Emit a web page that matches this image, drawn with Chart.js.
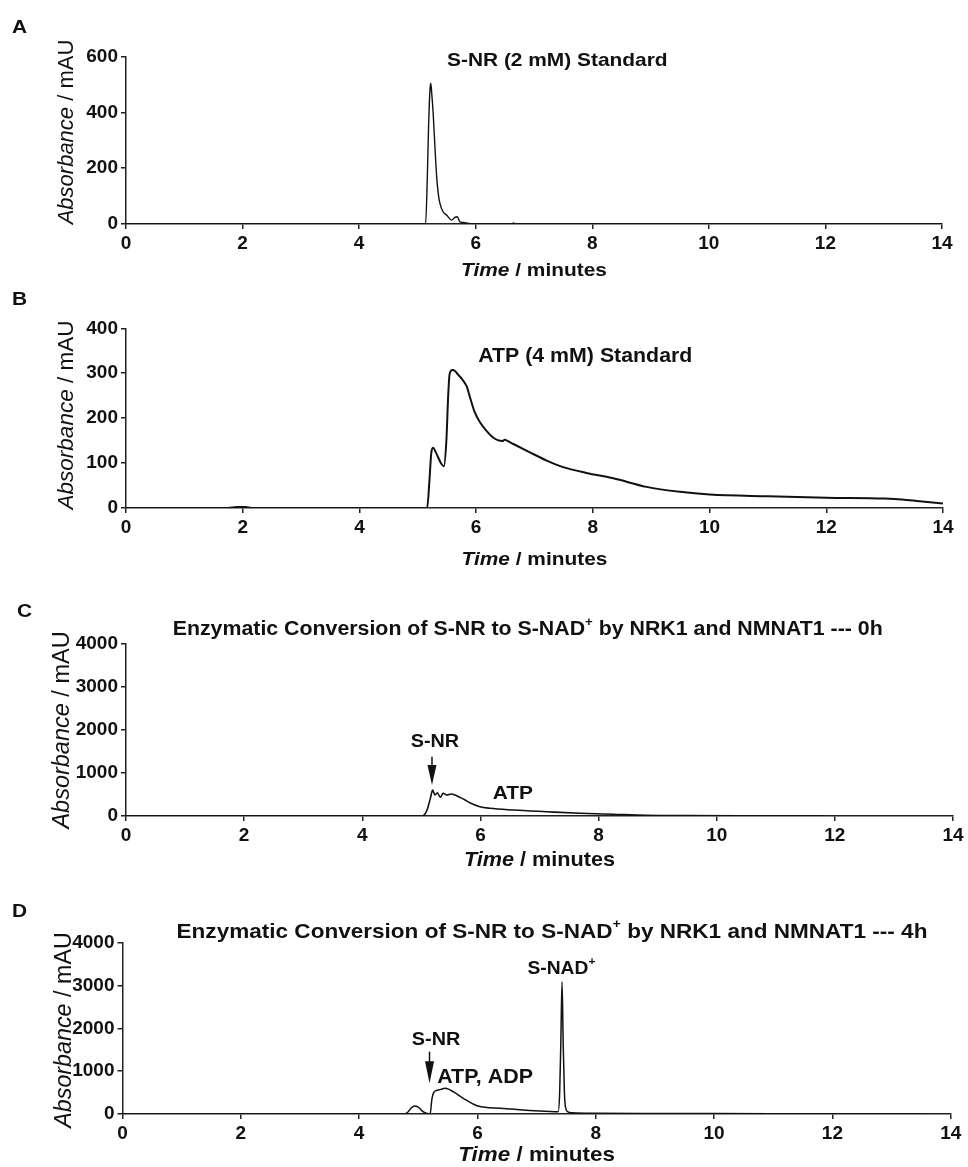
<!DOCTYPE html>
<html>
<head>
<meta charset="utf-8">
<script src="https://cdn.jsdelivr.net/npm/chart.js@4"></script>
<style>
  body { margin: 0; background: #fff; }
  canvas { position: absolute; left: 0; }
</style>
</head>
<body>
<canvas id="chartA" width="968" height="290" style="top:0px"></canvas>
<canvas id="chartB" width="968" height="290" style="top:290px"></canvas>
<canvas id="chartC" width="968" height="300" style="top:580px"></canvas>
<canvas id="chartD" width="968" height="287" style="top:880px"></canvas>
<script>
// x axis (minutes) shared by all four chromatograms
var xTicks = [0, 2, 4, 6, 8, 10, 12, 14];

// A: S-NR (2 mM) standard
var timeA = [0, 5.10, 5.14, 5.17, 5.19, 5.215, 5.228, 5.245, 5.27, 5.30, 5.33, 5.357, 5.386, 5.44, 5.50, 5.587, 5.643, 5.683, 5.729, 5.815, 5.90, 6.0, 6.62, 6.65, 6.68, 14];
var absA  = [0, 0, 0, 170, 340, 480, 505, 470, 397, 277, 170, 110, 74, 44, 32, 14, 24, 26, 8, 5, 1, 0, 0, 4, 0, 0];
var yTicksA = [0, 200, 400, 600];

// B: ATP (4 mM) standard
var timeB = [0, 1.75, 1.9, 2.05, 2.15, 5.16, 5.20, 5.23, 5.26, 5.32, 5.40, 5.447, 5.49, 5.52, 5.545, 5.59, 5.63, 5.69, 5.77, 5.84, 5.90, 5.97, 6.06, 6.17, 6.29, 6.37, 6.45, 6.49, 6.57, 6.63, 6.92, 7.20, 7.49, 7.89, 8.35, 8.92, 9.49, 10.0, 11.0, 12.0, 13.0, 13.3, 13.6, 14];
var absB  = [0, 0, 2, 2, 0, 0, 62, 121, 134, 121, 99, 93, 150, 247, 298, 307, 306, 297, 285, 270, 244, 215, 192, 173, 157, 151, 149, 152, 147, 143, 124, 106, 91, 78, 66, 47, 36, 30, 26, 23, 21, 19, 15, 10];
var yTicksB = [0, 100, 200, 300, 400];

// C: enzymatic conversion, 0 h
var timeC = [0, 5.02, 5.06, 5.10, 5.13, 5.16, 5.19, 5.23, 5.27, 5.32, 5.37, 5.43, 5.51, 5.58, 5.65, 5.74, 5.82, 5.99, 6.16, 6.56, 7.12, 7.69, 8.25, 8.81, 9.5, 10.5, 11.8];
var absC  = [0, 0, 46, 150, 294, 450, 602, 486, 540, 433, 526, 486, 510, 480, 433, 370, 308, 215, 178, 139, 100, 63, 39, 16, 8, 3, 0];
var yTicksC = [0, 1000, 2000, 3000, 4000];

// D: enzymatic conversion, 4 h
var timeD = [0, 4.75, 4.82, 4.88, 4.94, 5.00, 5.08, 5.15, 5.20, 5.23, 5.26, 5.30, 5.38, 5.45, 5.52, 5.59, 5.76, 5.99, 6.21, 6.49, 6.77, 7.06, 7.31, 7.365, 7.39, 7.41, 7.43, 7.45, 7.47, 7.49, 7.53, 7.60, 8.0, 9.0, 10.0, 12.0, 13.6];
var absD  = [0, 0, 40, 140, 187, 160, 54, 10, 0, 350, 500, 545, 575, 600, 575, 521, 367, 194, 147, 124, 93, 70, 54, 55, 500, 1700, 3090, 1600, 500, 150, 50, 28, 15, 12, 10, 5, 2];
var yTicksD = [0, 1000, 2000, 3000, 4000];

var FONT = "'Liberation Sans', Arial, Helvetica, sans-serif";
var INK = '#111';

function segFont(s, size) {
    var sz = s.sup ? Math.round(size * 0.62) : size;
    return (s.italic ? 'italic ' : '') + (s.normal ? '' : 'bold ') + sz + 'px ' + FONT;
}

// draws a run of text pieces (italic / superscript parts) as one line
function drawRich(ctx, segs, x, y, size, opt) {
    opt = opt || {};
    ctx.save();
    ctx.translate(x, y);
    if (opt.rotate) ctx.rotate(opt.rotate);
    ctx.scale(opt.sx || 1, 1);
    var widths = [], total = 0;
    segs.forEach(function (s) {
        ctx.font = segFont(s, size);
        var w = ctx.measureText(s.t).width;
        widths.push(w);
        total += w;
    });
    var cx = opt.align === 'left' ? 0 : -total / 2;
    ctx.fillStyle = INK;
    ctx.textAlign = 'left';
    ctx.textBaseline = opt.baseline || 'middle';
    segs.forEach(function (s, i) {
        ctx.font = segFont(s, size);
        ctx.fillText(s.t, cx, s.sup ? -size * 0.38 : 0);
        cx += widths[i];
    });
    ctx.restore();
}

function drawArrow(ctx, x, yTop, yTip, head, hw) {
    ctx.save();
    ctx.strokeStyle = INK;
    ctx.fillStyle = INK;
    ctx.lineWidth = 1.5;
    ctx.beginPath();
    ctx.moveTo(x, yTop);
    ctx.lineTo(x, yTip - head + 2);
    ctx.stroke();
    ctx.beginPath();
    ctx.moveTo(x - hw / 2, yTip - head);
    ctx.lineTo(x + hw / 2, yTip - head);
    ctx.lineTo(x, yTip);
    ctx.closePath();
    ctx.fill();
    ctx.restore();
}

var yTitleSegs = [{t: 'Absorbance', italic: true, normal: true}, {t: ' / mAU', normal: true}];
var xTitleSegs = [{t: 'Time', italic: true}, {t: ' / minutes'}];

// text + arrows drawn on top of each panel
var panelText = {
    id: 'panelText',
    afterDraw: function (chart, args, o) {
        var ctx = chart.ctx, xs = chart.scales.x, ys = chart.scales.y, ca = chart.chartArea;
        drawRich(ctx, [{t: o.letter.t}], o.letter.x, o.letter.y, 19, {align: 'left', sx: 1.1});
        drawRich(ctx, yTitleSegs, o.yTitle.x, o.yTitle.y, o.yTitle.size,
            {rotate: -Math.PI / 2, baseline: 'alphabetic'});
        drawRich(ctx, xTitleSegs, (ca.left + ca.right) / 2, ca.bottom + o.xTitle.dy, o.xTitle.size, {sx: 1.1});
        (o.labels || []).forEach(function (l) {
            drawRich(ctx, l.segs, xs.getPixelForValue(l.x), ys.getPixelForValue(l.y), l.size,
                {sx: 1.1, align: l.align});
        });
        (o.arrows || []).forEach(function (a) {
            drawArrow(ctx, xs.getPixelForValue(a.x), ys.getPixelForValue(a.from), ys.getPixelForValue(a.to), a.head, 9);
        });
    }
};

function makePanel(id, times, values, yTicks, area, lineWidth, text) {
    var canvas = document.getElementById(id);
    var pts = times.map(function (t, i) { return {x: t, y: values[i]}; });
    var axisCommon = {
        grid: {drawOnChartArea: false, drawTicks: true, tickLength: 5, color: '#222', lineWidth: 1.5},
        border: {color: '#222', width: 1.5},
        ticks: {
            color: INK, font: {family: FONT, weight: 'bold', size: 19}, padding: 3,
            callback: function (v) { return String(v); }
        }
    };
    return new Chart(canvas.getContext('2d'), {
        type: 'line',
        data: {
            datasets: [{
                data: pts,
                borderColor: INK,
                borderWidth: lineWidth,
                pointRadius: 0,
                fill: false,
                cubicInterpolationMode: 'monotone'
            }]
        },
        options: {
            responsive: false,
            animation: false,
            layout: {padding: {left: 0, right: canvas.width - area.right, top: area.top, bottom: 0}},
            plugins: {legend: {display: false}, tooltip: {enabled: false}, panelText: text},
            scales: {
                x: Object.assign({}, axisCommon, {
                    type: 'linear',
                    min: xTicks[0], max: xTicks[xTicks.length - 1],
                    ticks: Object.assign({}, axisCommon.ticks, {stepSize: xTicks[1] - xTicks[0], maxRotation: 0}),
                    afterFit: function (s) { s.height = canvas.height - area.bottom; }
                }),
                y: Object.assign({}, axisCommon, {
                    min: yTicks[0], max: yTicks[yTicks.length - 1],
                    ticks: Object.assign({}, axisCommon.ticks, {stepSize: yTicks[1] - yTicks[0]}),
                    afterFit: function (s) { s.width = area.left; }
                })
            }
        },
        plugins: [panelText]
    });
}

function convTitle(h) {
    return [{t: 'Enzymatic Conversion of S-NR to S-NAD'}, {t: '+', sup: true}, {t: ' by NRK1 and NMNAT1 --- ' + h}];
}

makePanel('chartA', timeA, absA, yTicksA, {left: 126, right: 942, top: 56.7, bottom: 224}, 1.4, {
    letter: {t: 'A', x: 12, y: 28},
    yTitle: {x: 73, y: 132, size: 22},
    xTitle: {dy: 47, size: 19},
    labels: [{segs: [{t: 'S-NR (2 mM) Standard'}], x: 7.4, y: 585, size: 19}]
});

makePanel('chartB', timeB, absB, yTicksB, {left: 126, right: 943, top: 38.3, bottom: 218}, 2, {
    letter: {t: 'B', x: 12, y: 10},
    yTitle: {x: 73, y: 125, size: 22.5},
    xTitle: {dy: 52, size: 19},
    labels: [{segs: [{t: 'ATP (4 mM) Standard'}], x: 7.87, y: 337, size: 19.4}]
});

makePanel('chartC', timeC, absC, yTicksC, {left: 126, right: 953, top: 63.3, bottom: 236}, 1.6, {
    letter: {t: 'C', x: 17, y: 32},
    yTitle: {x: 69, y: 150, size: 23.5},
    xTitle: {dy: 45, size: 19.7},
    labels: [
        {segs: convTitle('0h'), x: 6.8, y: 4310, size: 19.4},
        {segs: [{t: 'S-NR'}], x: 5.23, y: 1720, size: 18},
        {segs: [{t: 'ATP'}], x: 6.55, y: 526, size: 19}
    ],
    arrows: [{x: 5.18, from: 1373, to: 718, head: 20}]
});

makePanel('chartD', timeD, absD, yTicksD, {left: 122.5, right: 950.7, top: 62.7, bottom: 234}, 1.5, {
    letter: {t: 'D', x: 12, y: 32},
    yTitle: {x: 71, y: 150, size: 23.3},
    xTitle: {dy: 41, size: 20.4},
    labels: [
        {segs: convTitle('4h'), x: 7.26, y: 4250, size: 20.5},
        {segs: [{t: 'S-NAD'}, {t: '+', sup: true}], x: 7.42, y: 3386, size: 17.5},
        {segs: [{t: 'S-NR'}], x: 5.30, y: 1728, size: 18},
        {segs: [{t: 'ATP, ADP'}], x: 5.32, y: 852, size: 19.5, align: 'left'}
    ],
    arrows: [{x: 5.19, from: 1455, to: 717, head: 22}]
});
</script>
</body>
</html>
